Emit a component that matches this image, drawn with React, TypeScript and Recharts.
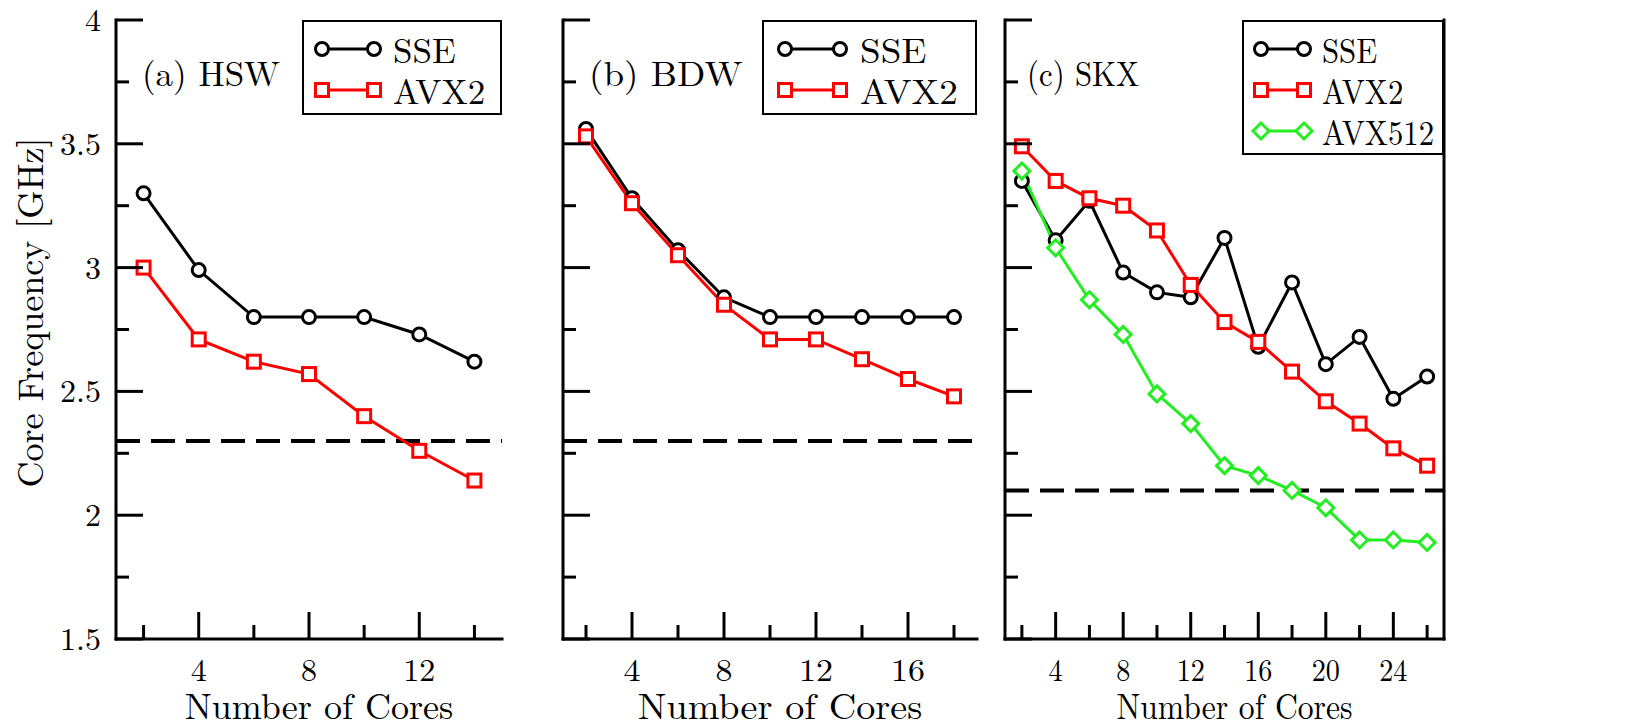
import React from "react";
import { LineChart, Line, XAxis, YAxis, ReferenceLine, Legend } from "recharts";

const FONT = '"Latin Modern Roman", "Liberation Serif", serif';
const RED = "#ff0000";
const GREEN = "#22ee22";

// (a) Haswell
const hswCores = [2, 4, 6, 8, 10, 12, 14];
const hswSse = [3.3, 2.99, 2.8, 2.8, 2.8, 2.73, 2.62];
const hswAvx2 = [3.0, 2.71, 2.62, 2.57, 2.4, 2.26, 2.14];
const hswBase = 2.3;

// (b) Broadwell
const bdwCores = [2, 4, 6, 8, 10, 12, 14, 16, 18];
const bdwSse = [3.56, 3.28, 3.07, 2.88, 2.8, 2.8, 2.8, 2.8, 2.8];
const bdwAvx2 = [3.53, 3.26, 3.05, 2.85, 2.71, 2.71, 2.63, 2.55, 2.48];
const bdwBase = 2.3;

// (c) Skylake-SP
const skxCores = [2, 4, 6, 8, 10, 12, 14, 16, 18, 20, 22, 24, 26];
const skxSse = [3.35, 3.11, 3.27, 2.98, 2.9, 2.88, 3.12, 2.68, 2.94, 2.61, 2.72, 2.47, 2.56];
const skxAvx2 = [3.49, 3.35, 3.28, 3.25, 3.15, 2.93, 2.78, 2.7, 2.58, 2.46, 2.37, 2.27, 2.2];
const skxAvx512 = [3.39, 3.08, 2.87, 2.73, 2.49, 2.37, 2.2, 2.16, 2.1, 2.03, 1.9, 1.9, 1.89];
const skxBase = 2.1;

const yTicks = [1.5, 1.75, 2, 2.25, 2.5, 2.75, 3, 3.25, 3.5, 3.75, 4];
const xTicksA = [2, 4, 6, 8, 10, 12, 14];
const xTicksB = [2, 4, 6, 8, 10, 12, 14, 16, 18];
const xTicksC = [2, 4, 6, 8, 10, 12, 14, 16, 18, 20, 22, 24, 26];
const legendOrder = ["sse", "avx2", "avx512"];

const isMajorY = (v: number) => Number.isInteger(v * 2);
const isMajorX = (v: number) => v % 4 === 0;

// text squeezed/stretched horizontally like the original panels
function SText(props: {
  x: number;
  y: number;
  sx: number;
  size: number;
  anchor: "start" | "middle" | "end";
  rotate?: number;
  children: React.ReactNode;
}) {
  const t = props.rotate
    ? `translate(${props.x},${props.y}) rotate(${props.rotate}) scale(${props.sx},1)`
    : `translate(${props.x},${props.y}) scale(${props.sx},1)`;
  return (
    <text
      transform={t}
      textAnchor={props.anchor}
      fontFamily={FONT}
      style={{ fontFamily: FONT }}
      fontSize={props.size}
      fill="#000"
    >
      {props.children}
    </text>
  );
}

function yTick(side: "left" | "right", labels: boolean, sx: number) {
  return (props: any) => {
    const { x, y, payload } = props;
    const major = isMajorY(payload.value);
    const dir = side === "left" ? 1 : -1;
    return (
      <g>
        <line x1={x} y1={y} x2={x + dir * (major ? 27 : 13)} y2={y} stroke="#000" strokeWidth={3} />
        {labels && major && (
          <SText x={x - dir * 15} y={y + 11} sx={sx} size={32} anchor={side === "left" ? "end" : "start"}>
            {String(payload.value)}
          </SText>
        )}
      </g>
    );
  };
}

function xTick(side: "top" | "bottom", sx: number) {
  return (props: any) => {
    const { x, y, payload } = props;
    const major = isMajorX(payload.value);
    const dir = side === "bottom" ? -1 : 1;
    return (
      <g>
        <line x1={x} y1={y} x2={x} y2={y + dir * (major ? 27 : 14)} stroke="#000" strokeWidth={3} />
        {side === "bottom" && major && (
          <SText x={x} y={y + 42} sx={sx} size={32} anchor="middle">
            {String(payload.value)}
          </SText>
        )}
      </g>
    );
  };
}

const circleDot = (p: any) => (
  <circle key={`c${p.index}`} cx={p.cx} cy={p.cy} r={6.5} fill="#fff" stroke="#000" strokeWidth={3} />
);
const squareDot = (p: any) => (
  <rect key={`s${p.index}`} x={p.cx - 6.5} y={p.cy - 6.5} width={13} height={13} fill="#fff" stroke={RED} strokeWidth={3} />
);
const diamondDot = (p: any) => (
  <polygon
    key={`d${p.index}`}
    points={`${p.cx},${p.cy - 8} ${p.cx + 8},${p.cy} ${p.cx},${p.cy + 8} ${p.cx - 8},${p.cy}`}
    fill="#fff"
    stroke={GREEN}
    strokeWidth={3}
  />
);

type LegendGeo = { m1: number; m2: number; textX: number; sx: number };

function LegendIcon({ kind, geo }: { kind: string; geo: LegendGeo }) {
  const color = kind === "sse" ? "#000" : kind === "avx2" ? RED : GREEN;
  const mark = (cx: number) => {
    const p = { cx, cy: 11, index: cx };
    return kind === "sse" ? circleDot(p) : kind === "avx2" ? squareDot(p) : diamondDot(p);
  };
  return (
    <svg width={geo.textX} height={22} style={{ flex: "none", display: "block" }}>
      <line x1={geo.m1} y1={11} x2={geo.m2} y2={11} stroke={color} strokeWidth={3} />
      {mark(geo.m1)}
      {mark(geo.m2)}
    </svg>
  );
}

function LegendBox(props: any) {
  const geo: LegendGeo = props.geo;
  const items = [...(props.payload || [])].sort(
    (a: any, b: any) => legendOrder.indexOf(a.dataKey) - legendOrder.indexOf(b.dataKey)
  );
  return (
    <div
      style={{
        boxSizing: "border-box",
        width: "100%",
        height: "100%",
        border: "2px solid #000",
        background: "#fff",
        paddingTop: 6,
        fontFamily: FONT,
        fontSize: 35,
        color: "#000",
      }}
    >
      {items.map((it: any) => (
        <div key={it.dataKey} style={{ display: "flex", alignItems: "center", height: 41, marginLeft: -2 }}>
          <LegendIcon kind={it.dataKey} geo={geo} />
          <span
            style={{
              display: "inline-block",
              lineHeight: "41px",
              whiteSpace: "nowrap",
              transform: `scaleX(${geo.sx})`,
              transformOrigin: "0 50%",
            }}
          >
            {it.value}
          </span>
        </div>
      ))}
    </div>
  );
}

const axisLine = { stroke: "#000", strokeWidth: 3, strokeLinecap: "square" as const };

function Panel(props: {
  left: number;
  width: number;
  leftAxisWidth: number;
  rightAxisWidth: number;
  marginRight: number;
  domain: [number, number];
  xTicks: number[];
  data: any[];
  base: number;
  tag: string;
  tagOffset: number;
  sx: number;
  legendLeft: number;
  legendWidth: number;
  legendGeo: LegendGeo;
  leftLabels?: boolean;
  rightLabels?: boolean;
  withAvx512?: boolean;
}) {
  const rows = props.withAvx512 ? 3 : 2;
  const sx = props.sx;
  return (
    <div
      style={{ position: "absolute", left: props.left, top: 0, width: props.width, height: 727, fontFamily: FONT }}
    >
      <LineChart
        width={props.width}
        height={727}
        data={props.data}
        margin={{ top: 20, right: props.marginRight, bottom: 0, left: 0 }}
      >
        <XAxis
          xAxisId="b"
          dataKey="cores"
          type="number"
          domain={props.domain}
          ticks={props.xTicks}
          interval={0}
          height={88}
          tickSize={0}
          tickMargin={0}
          tickLine={false}
          axisLine={axisLine}
          tick={xTick("bottom", sx)}
          label={(lp: any) => {
            const vb = lp.viewBox || {};
            return (
              <SText x={vb.x + vb.width / 2 + 10} y={vb.y + 80} sx={sx} size={36} anchor="middle">
                Number of Cores
              </SText>
            );
          }}
        />
        <XAxis
          xAxisId="t"
          orientation="top"
          dataKey="cores"
          type="number"
          domain={props.domain}
          ticks={props.xTicks}
          interval={0}
          height={0}
          tickSize={0}
          tickMargin={0}
          tickLine={false}
          axisLine={axisLine}
          tick={xTick("top", sx)}
        />
        <YAxis
          yAxisId="l"
          type="number"
          domain={[1.5, 4]}
          ticks={yTicks}
          interval={0}
          width={props.leftAxisWidth}
          tickSize={0}
          tickMargin={0}
          tickLine={false}
          axisLine={axisLine}
          tick={yTick("left", !!props.leftLabels, sx)}
          label={
            props.leftLabels
              ? (lp: any) => {
                  const vb = lp.viewBox || {};
                  return (
                    <SText x={vb.x + 43} y={vb.y + vb.height / 2 - 17} sx={1} size={36} anchor="middle" rotate={-90}>
                      Core Frequency [GHz]
                    </SText>
                  );
                }
              : undefined
          }
        />
        <YAxis
          yAxisId="r"
          orientation="right"
          type="number"
          domain={[1.5, 4]}
          ticks={yTicks}
          interval={0}
          width={props.rightAxisWidth}
          tickSize={0}
          tickMargin={0}
          tickLine={false}
          axisLine={axisLine}
          tick={yTick("right", !!props.rightLabels, sx)}
        />
        <ReferenceLine
          xAxisId="b"
          yAxisId="l"
          y={props.base}
          stroke="#000"
          strokeWidth={4}
          strokeDasharray="24 11"
        />
        <Line
          xAxisId="b"
          yAxisId="l"
          type="linear"
          dataKey="sse"
          name="SSE"
          stroke="#000"
          strokeWidth={3}
          dot={circleDot}
          isAnimationActive={false}
        />
        <Line
          xAxisId="b"
          yAxisId="l"
          type="linear"
          dataKey="avx2"
          name="AVX2"
          stroke={RED}
          strokeWidth={3}
          dot={squareDot}
          isAnimationActive={false}
        />
        {props.withAvx512 && (
          <Line
            xAxisId="b"
            yAxisId="l"
            type="linear"
            dataKey="avx512"
            name="AVX512"
            stroke={GREEN}
            strokeWidth={3}
            dot={diamondDot}
            isAnimationActive={false}
          />
        )}
        <Legend
          layout="horizontal"
          verticalAlign="middle"
          align="center"
          content={<LegendBox geo={props.legendGeo} />}
          wrapperStyle={{
            top: 20,
            left: props.legendLeft,
            width: props.legendWidth,
            height: rows === 3 ? 135 : 95,
          }}
        />
      </LineChart>
      <div
        style={{
          position: "absolute",
          left: props.leftAxisWidth + props.tagOffset,
          top: 52,
          fontFamily: FONT,
          fontSize: 35,
          lineHeight: "40px",
          color: "#000",
          whiteSpace: "nowrap",
          transform: `scaleX(${sx})`,
          transformOrigin: "0 50%",
        }}
      >
        {props.tag}
      </div>
    </div>
  );
}

export default function App() {
  const hswData = hswCores.map((c, i) => ({ cores: c, sse: hswSse[i], avx2: hswAvx2[i] }));
  const bdwData = bdwCores.map((c, i) => ({ cores: c, sse: bdwSse[i], avx2: bdwAvx2[i] }));
  const skxData = skxCores.map((c, i) => ({
    cores: c,
    sse: skxSse[i],
    avx2: skxAvx2[i],
    avx512: skxAvx512[i],
  }));
  return (
    <div style={{ position: "absolute", left: 0, top: 0, width: 1627, height: 727, background: "#fff" }}>
      <Panel
        left={0}
        width={520}
        leftAxisWidth={116}
        rightAxisWidth={0}
        marginRight={18}
        domain={[1, 15]}
        xTicks={xTicksA}
        data={hswData}
        base={hswBase}
        tag="(a) HSW"
        tagOffset={26}
        sx={1}
        legendLeft={302}
        legendWidth={200}
        legendGeo={{ m1: 20, m2: 72, textX: 91, sx: 1 }}
        leftLabels
      />
      <Panel
        left={545}
        width={450}
        leftAxisWidth={18}
        rightAxisWidth={0}
        marginRight={18}
        domain={[1, 19]}
        xTicks={xTicksB}
        data={bdwData}
        base={bdwBase}
        tag="(b) BDW"
        tagOffset={26}
        sx={1.06}
        legendLeft={217}
        legendWidth={215}
        legendGeo={{ m1: 23, m2: 78, textX: 98, sx: 1.06 }}
      />
      <Panel
        left={985}
        width={642}
        leftAxisWidth={20}
        rightAxisWidth={183}
        marginRight={0}
        domain={[1, 27]}
        xTicks={xTicksC}
        data={skxData}
        base={skxBase}
        tag="(c) SKX"
        tagOffset={22}
        sx={0.88}
        legendLeft={257}
        legendWidth={202}
        legendGeo={{ m1: 19, m2: 62, textX: 80, sx: 0.88 }}
        rightLabels
        withAvx512
      />
    </div>
  );
}
